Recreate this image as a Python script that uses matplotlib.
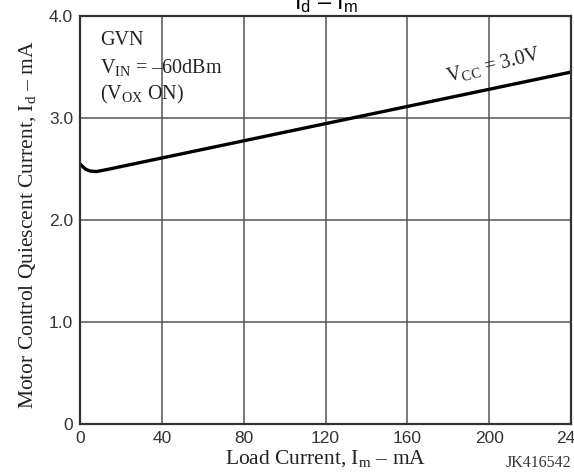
import numpy as np
import matplotlib
matplotlib.use('Agg')
from matplotlib import pyplot as plt

plt.rcParams['mathtext.fontset'] = 'custom'
plt.rcParams['mathtext.rm'] = 'Liberation Serif'
plt.rcParams['mathtext.it'] = 'Liberation Serif'
plt.rcParams['mathtext.sf'] = 'Liberation Sans'

# curve (Vcc = 3.0V)
load_ma = [0, 1.5, 3, 5, 8, 12, 240]
quiescent_ma = [2.55, 2.52, 2.495, 2.48, 2.475, 2.49, 3.45]

x_ticks = [0, 40, 80, 120, 160, 200, 240]
x_labels = ['0', '40', '80', '120', '160', '200', '240']
y_ticks = [0, 1.0, 2.0, 3.0, 4.0]
y_labels = ['0', '1.0', '2.0', '3.0', '4.0']

fig = plt.figure(figsize=(5.74, 4.72), dpi=100)
ax = fig.add_axes([80/574, 1-424/472, 491/574, 408/472])

ax.plot(load_ma, quiescent_ma, color='black', lw=2.4, solid_capstyle='butt')

ax.set_xlim(0, 240)
ax.set_ylim(0, 4.0)
ax.set_xticks(x_ticks)
ax.set_xticklabels(x_labels)
ax.set_yticks(y_ticks)
ax.set_yticklabels(y_labels)
ax.tick_params(length=0, pad=5, labelsize=12.5, colors='#333333')
for lab in ax.get_xticklabels() + ax.get_yticklabels():
    lab.set_family('Liberation Sans')
ax.grid(True, color='#555555', lw=1.1)
for s in ax.spines.values():
    s.set_color('#333333')
    s.set_linewidth(1.6)

serif = 'Liberation Serif'
fig.text(326/574, 1-459/472, r'Load Current, I$_{\mathrm{m}}$ – mA', family=serif, fontsize=15.5,
         ha='center', va='center', color='#222222')
fig.text(28/574, 1-225/472, r'Motor Control Quiescent Current, I$_{\mathrm{d}}$ – mA', family=serif,
         fontsize=15.5, rotation=90, ha='center', va='center', color='#222222')
fig.text(326/574, 0.995, r'$\mathsf{I_d}$ – $\mathsf{I_m}$', family='Liberation Sans',
         fontsize=17, ha='center', va='center')
fig.text(538/574, 1-463/472, 'JK416542', family=serif, fontsize=11.5, ha='center', va='center', color='#333333')

ann = dict(transform=ax.transAxes, family=serif, fontsize=14.5, va='center', color='#222222')
ax.text(0.041, 0.941, 'GVN', **ann)
ax.text(0.041, 0.873, r'V$_{\mathrm{IN}}$ = –60dBm', **ann)
ax.text(0.041, 0.808, r'(V$_{\mathrm{OX}}$ ON)', **ann)
ax.text(0.842, 0.88, r'V$_{\mathrm{CC}}$ = 3.0V', transform=ax.transAxes, family=serif, fontsize=14.5,
        ha='center', va='center', rotation=14, color='#222222')

plt.savefig('out.png', dpi=100)
